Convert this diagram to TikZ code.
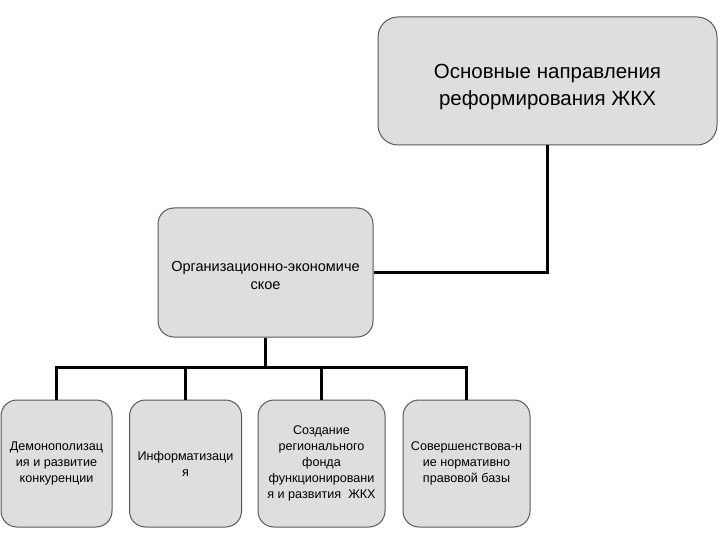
\documentclass[tikz,border=0pt]{standalone}
\usepackage{fontspec}
\setmainfont{Liberation Sans}
\usepackage{tikz}

\begin{document}
\begin{tikzpicture}[x=1pt, y=-1pt,
		blok/.style={draw=black!65, line width=1pt, fill=black!13, rounded corners=16pt, align=center, inner sep=0pt},
		svyaz/.style={draw=black, line width=2.5pt}]
		\useasboundingbox (0,0) rectangle (720,540);
		\node[blok, minimum width=339pt, minimum height=128pt, rounded corners=20pt, font=\fontsize{20.5}{27}\selectfont] (main) at (547.5,81) {\rule{0pt}{27pt}Основные направления\\реформирования ЖКХ};
		\node[blok, minimum width=215pt, minimum height=129pt, font=\fontsize{14.5}{18}\selectfont] (org) at (265.5,272.5) {\rule{0pt}{16pt}Организационно-экономиче\\ское};
		\begin{scope}[every node/.style={blok, minimum height=127pt, font=\fontsize{12.6}{16}\selectfont}]
			\node[minimum width=111pt] (d1) at (56.5,463.5) {Демонополизац\\ия и развитие\\конкуренции};
			\node[minimum width=112pt] (d2) at (185.5,463.5) {Информатизаци\\я};
			\node[minimum width=127pt] (d3) at (321.5,463.5) {Создание\\регионального\\фонда\\функционировани\\я и развития~ ЖКХ};
			\node[minimum width=127pt] (d4) at (466.5,463.5) {Совершенствова-н\\ие нормативно\\правовой базы};
		\end{scope}
		\draw[svyaz] (main.south) |- (org.east);
		\foreach \kid in {d1,d2,d3,d4}
			\draw[svyaz] (org.south) -- ++(0,30) -| (\kid.north);
	\end{tikzpicture}
\end{document}
